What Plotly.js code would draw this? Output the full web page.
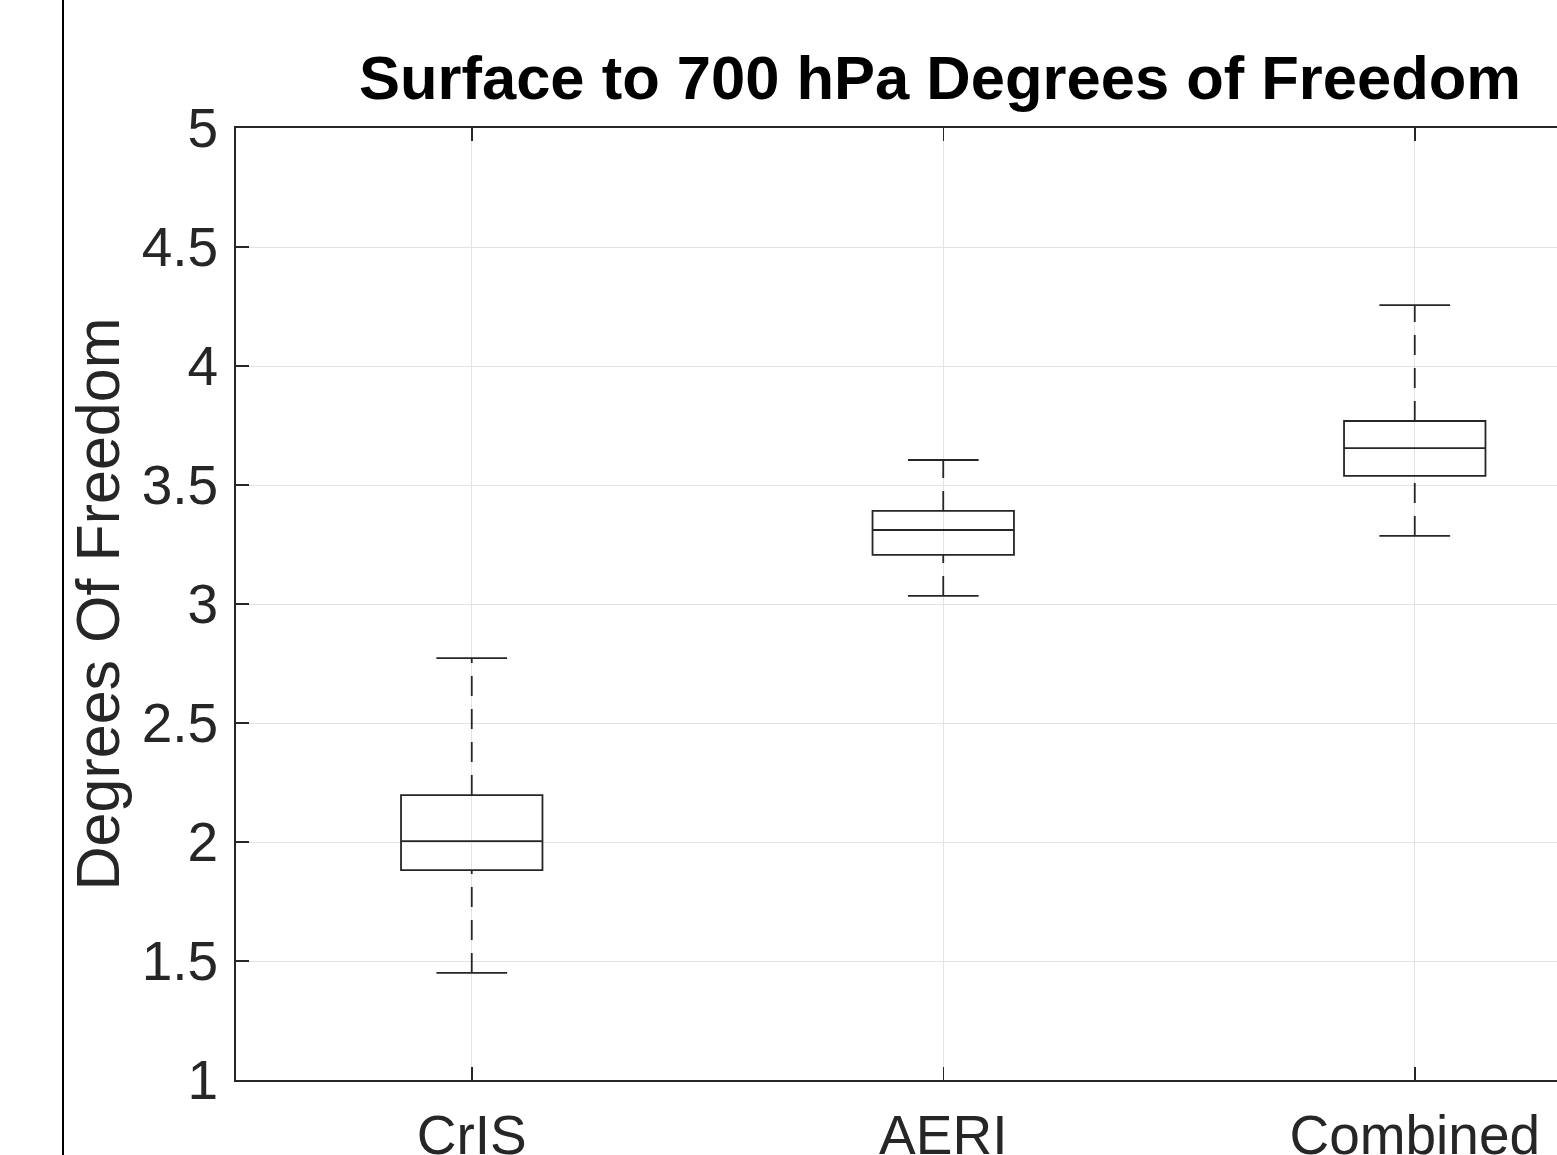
<!DOCTYPE html>
<html>
<head>
<meta charset="utf-8">
<script src="https://cdn.plot.ly/plotly-3.0.1.min.js"></script>
<style>html,body{margin:0;padding:0;background:#fff;}#chart{width:1557px;height:1155px;}</style>
</head>
<body>
<div id="chart"></div>
<script>
// Data
const categories = ["CrIS", "AERI", "Combined"];
const positions = [1, 2, 3];
const lowerWhisker = [1.450, 3.034, 3.286];
const q1Values = [1.882, 3.206, 3.538];
const medianValues = [2.004, 3.311, 3.655];
const q3Values = [2.197, 3.391, 3.769];
const upperWhisker = [2.773, 3.605, 4.256];
const yTicks = [1, 1.5, 2, 2.5, 3, 3.5, 4, 4.5, 5];

const ink = '#262626';
const boxWidth = 0.3;
const capHalf = boxWidth / 4;

const traces = [];
traces.push({
  type: 'box',
  x: positions,
  q1: q1Values,
  median: medianValues,
  q3: q3Values,
  lowerfence: q1Values,
  upperfence: q3Values,
  width: boxWidth,
  whiskerwidth: 0,
  boxpoints: false,
  fillcolor: 'rgba(0,0,0,0)',
  line: {color: ink, width: 1.8},
  hoverinfo: 'skip',
  showlegend: false
});

// dashed whiskers
for (let i = 0; i < positions.length; i++) {
  traces.push({
    type: 'scatter', mode: 'lines',
    x: [positions[i], positions[i]],
    y: [lowerWhisker[i], q1Values[i]],
    line: {color: ink, width: 1.8, dash: '20px,13px'},
    hoverinfo: 'skip', showlegend: false
  });
  traces.push({
    type: 'scatter', mode: 'lines',
    x: [positions[i], positions[i]],
    y: [q3Values[i], upperWhisker[i]],
    line: {color: ink, width: 1.8, dash: '20px,13px'},
    hoverinfo: 'skip', showlegend: false
  });
}
// whisker caps
const capX = [], capY = [];
for (let i = 0; i < positions.length; i++) {
  capX.push(positions[i] - capHalf, positions[i] + capHalf, null);
  capY.push(lowerWhisker[i], lowerWhisker[i], null);
  capX.push(positions[i] - capHalf, positions[i] + capHalf, null);
  capY.push(upperWhisker[i], upperWhisker[i], null);
}
traces.push({
  type: 'scatter', mode: 'lines', x: capX, y: capY,
  line: {color: ink, width: 1.8},
  hoverinfo: 'skip', showlegend: false
});

const W = 1557, L = 236, R = 0;
const plotW = W - L - R;
const unitPx = 471.5;

const layout = {
  width: 1557, height: 1155,
  margin: {l: L, r: R, t: 128, b: 75, pad: 0},
  paper_bgcolor: '#ffffff',
  plot_bgcolor: '#ffffff',
  font: {family: 'Liberation Sans, Arial, sans-serif', color: ink},
  title: {
    text: '<b>Surface to 700 hPa Degrees of Freedom</b>',
    font: {family: 'Liberation Sans, Arial, sans-serif', size: 61.5, color: '#000000'},
    xref: 'paper', x: (940 - L) / plotW, xanchor: 'center',
    yref: 'container', y: 1 - 77 / 1155, yanchor: 'middle'
  },
  xaxis: {
    range: [0.5, 0.5 + plotW / unitPx],
    tickvals: positions,
    ticktext: categories,
    tickfont: {size: 55, color: ink},
    ticks: 'inside', ticklen: 13, tickwidth: 1.5, tickcolor: ink,
    showline: true, linecolor: ink, linewidth: 1.8, mirror: 'ticks',
    showgrid: true, gridcolor: '#e3e3e3', gridwidth: 1,
    zeroline: false, fixedrange: true, ticklabelstandoff: 6
  },
  yaxis: {
    range: [1, 5],
    tickvals: yTicks,
    ticktext: yTicks.map(v => String(v)),
    tickfont: {size: 55, color: ink},
    ticks: 'inside', ticklen: 13, tickwidth: 1.5, tickcolor: ink,
    showline: true, linecolor: ink, linewidth: 1.8, mirror: false,
    showgrid: true, gridcolor: '#e3e3e3', gridwidth: 1,
    zeroline: false, fixedrange: true, ticklabelstandoff: 5,
    title: {text: 'Degrees Of Freedom', font: {size: 61, color: ink}, standoff: 2}
  },
  shapes: [{
    type: 'line', xref: 'paper', yref: 'paper',
    x0: (63 - L) / plotW, x1: (63 - L) / plotW,
    y0: -0.2, y1: 1.2,
    line: {color: '#000000', width: 2}
  }],
  showlegend: false
};

Plotly.newPlot('chart', traces, layout, {displayModeBar: false, staticPlot: true});
</script>
</body>
</html>
